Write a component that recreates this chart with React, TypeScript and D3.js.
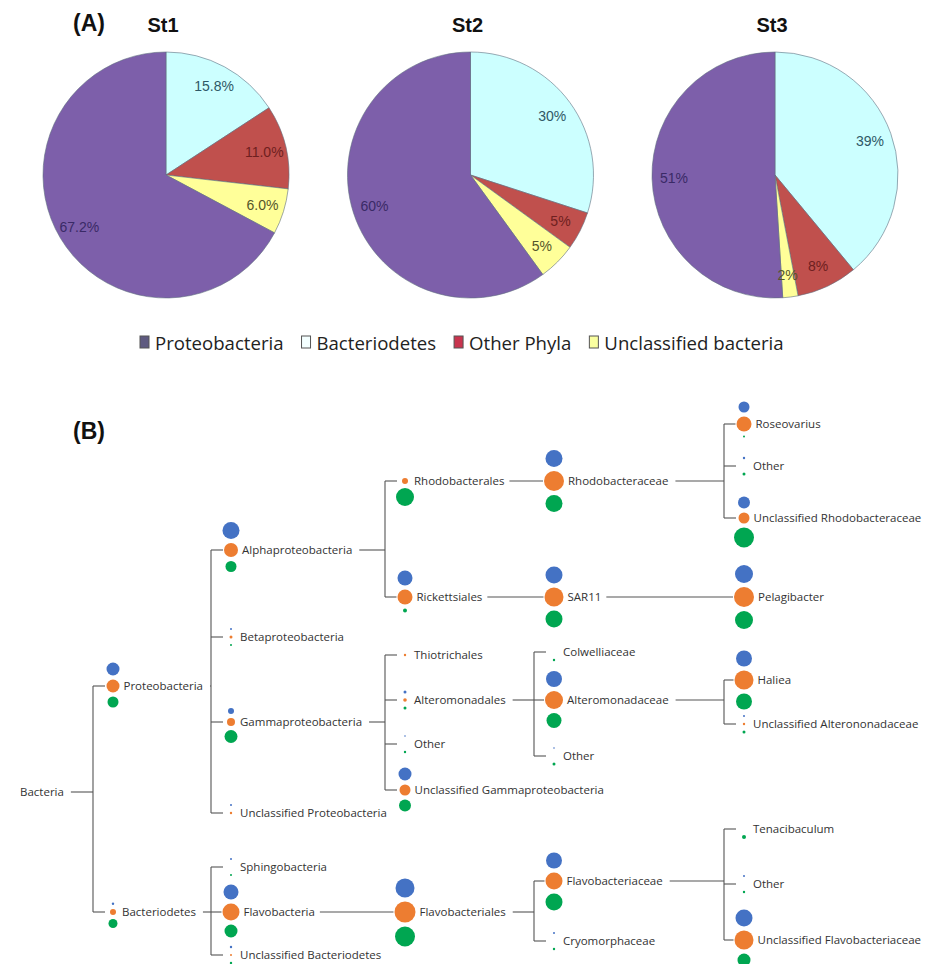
import React from "react";
import * as d3 from "d3";

// ---------- Panel A data ----------
const stations = ["St1", "St2", "St3"];
const phyla = ["Proteobacteria", "Bacteriodetes", "Other Phyla", "Unclassified bacteria"];
const st1Values = [67.2, 15.8, 11.0, 6.0];
const st2Values = [60, 30, 5, 5];
const st3Values = [51, 39, 8, 2];
const st1Labels = ["67.2%", "15.8%", "11.0%", "6.0%"];
const st2Labels = ["60%", "30%", "5%", "5%"];
const st3Labels = ["51%", "39%", "8%", "2%"];
const sliceOrder = [1, 2, 3, 0]; // clockwise from 12 o'clock

const phylaColors = ["#7D5FAA", "#CCFFFF", "#C0504D", "#FFFF99"];
const phylaTextColors = ["#3A2A66", "#2F5866", "#6E2020", "#55552A"];
const legendColors = ["#5E5A80", "#F4FFFF", "#C8344E", "#FAFFA0"];

// ---------- Panel B data ----------
const treeIds = [
  "bacteria", "proteo", "alpha", "rhodobacterales", "rhodobacteraceae", "roseovarius", "otherRhodo",
  "unclRhodo", "rickettsiales", "sar11", "pelagibacter", "beta", "gamma", "thiotrichales",
  "alteromonadales", "colwelliaceae", "alteromonadaceae", "haliea", "unclAltero", "otherAltero",
  "otherGamma", "unclGamma", "unclProteo", "bacteroidetes", "sphingo", "flavobacteria",
  "flavobacteriales", "flavobacteriaceae", "tenacibaculum", "otherFlavo", "unclFlavo", "cryomorph", "unclBact",
];
const treeLabels = [
  "Bacteria", "Proteobacteria", "Alphaproteobacteria", "Rhodobacterales", "Rhodobacteraceae", "Roseovarius", "Other",
  "Unclassified Rhodobacteraceae", "Rickettsiales", "SAR11", "Pelagibacter", "Betaproteobacteria", "Gammaproteobacteria", "Thiotrichales",
  "Alteromonadales", "Colwelliaceae", "Alteromonadaceae", "Haliea", "Unclassified Alterononadaceae", "Other",
  "Other", "Unclassified Gammaproteobacteria", "Unclassified Proteobacteria", "Bacteriodetes", "Sphingobacteria", "Flavobacteria",
  "Flavobacteriales", "Flavobacteriaceae", "Tenacibaculum", "Other", "Unclassified Flavobacteriaceae", "Cryomorphaceae", "Unclassified Bacteriodetes",
];
const treeParents = [
  "", "bacteria", "proteo", "alpha", "rhodobacterales", "rhodobacteraceae", "rhodobacteraceae",
  "rhodobacteraceae", "alpha", "rickettsiales", "sar11", "proteo", "proteo", "gamma",
  "gamma", "alteromonadales", "alteromonadales", "alteromonadaceae", "alteromonadaceae", "alteromonadales",
  "gamma", "gamma", "proteo", "bacteria", "bacteroidetes", "bacteroidetes",
  "flavobacteria", "flavobacteriales", "flavobacteriaceae", "flavobacteriaceae", "flavobacteriaceae", "flavobacteriales", "bacteroidetes",
];
// relative abundance symbol size per station (St1 blue, St2 orange, St3 green)
const sizeSt1 = [
  0, 6.5, 8.5, 0, 8.5, 5.5, 1.2,
  6, 7.5, 8.5, 9, 1, 3, 0,
  1.5, 0, 8, 8, 1, 0.8,
  0.8, 6.5, 1, 1.2, 1, 7.5,
  9.5, 8, 0, 1, 8.5, 1, 1.2,
];
const sizeSt2 = [
  0, 6.5, 7, 3, 10, 7.5, 0,
  5.5, 7.5, 9.5, 10, 1.5, 4, 1.2,
  1.8, 0, 9, 9.5, 1.2, 0,
  0, 5.5, 1.2, 3, 0, 8.5,
  10.5, 8.5, 0, 0, 9.5, 0, 1,
];
const sizeSt3 = [
  0, 5.5, 5.5, 9, 8.5, 1, 1.5,
  10, 2, 8.5, 9, 1, 6.5, 0,
  1.5, 1.2, 7.5, 8, 1.5, 1.5,
  1.2, 6, 0, 4.5, 1, 6.5,
  10, 8.5, 2, 1.2, 6.5, 1.2, 1.2,
];
// layout: vertical row of each taxon, and column per rank depth
const treeRowY = [
  792, 686, 550, 481, 481, 424, 466,
  518, 597, 597, 597, 637, 722, 655,
  700, 652, 700, 680, 724, 756,
  744, 790, 813, 912, 867, 912,
  912, 881, 829, 884, 940, 941, 955,
];
const depthColumnX = [11, 113, 231, 405, 554, 744];
const stationColors = ["#4472C4", "#ED7D31", "#00A651"];

const canvas = typeof document !== "undefined" ? document.createElement("canvas") : null;
const ctx = canvas ? canvas.getContext("2d") : null;
function measure(text: string, font: string): number {
  if (!ctx) return text.length * 6;
  ctx.font = font;
  return ctx.measureText(text).width;
}

const TREE_FONT_SIZE = 11.5;
const TREE_FONT = `${TREE_FONT_SIZE}px "Open Sans"`;
const LEGEND_FONT_SIZE = 18.6;
const LEGEND_FONT = `${LEGEND_FONT_SIZE}px "Open Sans"`;

type Row = { id: string; label: string; parent: string; y: number; s: number[] };

export default function App() {
  const W = 932;
  const H = 964;

  // ---- pies ----
  const pieX = d3.scalePoint<string>().domain(stations).range([166, 775]);
  const pieY = 175;
  const pieR = 123;
  const arc = d3.arc<d3.PieArcDatum<number>>().innerRadius(0).outerRadius(pieR);
  const labelArc = d3.arc<d3.PieArcDatum<number>>().innerRadius(101).outerRadius(101);
  const stationValues = [st1Values, st2Values, st3Values];
  const stationLabels = [st1Labels, st2Labels, st3Labels];

  // ---- legend ----
  const legendItems: { x: number; tx: number; i: number }[] = [];
  let lx = 140;
  phyla.forEach((p, i) => {
    legendItems.push({ x: lx, tx: lx + 15, i });
    lx = lx + 15 + measure(p, LEGEND_FONT) + 18;
  });

  // ---- tree ----
  const rows: Row[] = treeIds.map((id, i) => ({
    id,
    label: treeLabels[i],
    parent: treeParents[i],
    y: treeRowY[i],
    s: [sizeSt1[i], sizeSt2[i], sizeSt3[i]],
  }));
  const root = d3
    .stratify<Row>()
    .id((d) => d.id)
    .parentId((d) => (d.parent ? d.parent : null))(rows);
  const xCol = d3.scaleLinear().domain(d3.range(depthColumnX.length)).range(depthColumnX);
  const yRow = d3.scaleLinear().domain([400, 964]).range([400, 964]);
  const rScale = d3.scaleLinear().domain([0, 10]).range([0, 10]);

  const nodes = root.descendants();
  const info = new Map<string, { cx: number; cy: number; r: number[]; lx: number; tEnd: number }>();
  nodes.forEach((n) => {
    const cx = xCol(n.depth);
    const cy = yRow(n.data.y);
    const r = n.data.s.map((v) => rScale(v));
    const lxx = n.depth === 0 ? cx + 9 : cx + Math.max(r[1] + 4, 9);
    const tEnd = lxx + measure(n.data.label, TREE_FONT);
    info.set(n.data.id, { cx, cy, r, lx: lxx, tEnd });
  });

  const lines: { x1: number; y1: number; x2: number; y2: number }[] = [];
  nodes.forEach((n) => {
    if (!n.children) return;
    const p = info.get(n.data.id)!;
    if (n.children.length === 1) {
      const c = info.get(n.children[0].data.id)!;
      lines.push({ x1: p.tEnd + 5, y1: p.cy, x2: c.cx - Math.max(c.r[1], 3) - 1, y2: p.cy });
    } else {
      const bx = xCol(n.depth + 1) - 20;
      if (p.tEnd + 7 < bx) lines.push({ x1: p.tEnd + 7, y1: p.cy, x2: bx, y2: p.cy });
      const ys = n.children.map((c) => info.get(c.data.id)!.cy);
      lines.push({ x1: bx, y1: d3.min(ys)!, x2: bx, y2: d3.max(ys)! });
      n.children.forEach((c) => {
        const ci = info.get(c.data.id)!;
        lines.push({ x1: bx, y1: ci.cy, x2: ci.cx - Math.max(ci.r[1] + 1, 8), y2: ci.cy });
      });
    }
  });

  const circles: { cx: number; cy: number; r: number; fill: string; key: string }[] = [];
  nodes.forEach((n) => {
    const p = info.get(n.data.id)!;
    const [rb, ro, rg] = p.r;
    const gap = 4;
    const yb = p.cy - Math.max(ro + rb + gap, 8);
    const yg = p.cy + Math.max(ro + rg + gap, 8);
    if (rb > 0) circles.push({ cx: p.cx, cy: yb, r: rb, fill: stationColors[0], key: n.data.id + "b" });
    if (ro > 0) circles.push({ cx: p.cx, cy: p.cy, r: ro, fill: stationColors[1], key: n.data.id + "o" });
    if (rg > 0) circles.push({ cx: p.cx, cy: yg, r: rg, fill: stationColors[2], key: n.data.id + "g" });
  });

  return (
    <svg
      width={W}
      height={H}
      viewBox={`0 0 ${W} ${H}`}
      style={{ position: "absolute", left: 0, top: 0, display: "block", background: "#fff" }}
    >
      <rect x={0} y={0} width={W} height={H} fill="#fff" />
      {/* Panel A */}
      <text x={73} y={31} fontFamily="Liberation Sans, Arial, sans-serif" fontWeight="bold" fontSize={23} fill="#111">
        (A)
      </text>
      {stations.map((st, si) => {
        const vals = stationValues[si];
        const arcs = d3
          .pie<number>()
          .sort(null)
          .value((i) => vals[i])(sliceOrder);
        const cx = pieX(st)!;
        return (
          <g key={st}>
            <text
              x={cx - 3}
              y={32}
              textAnchor="middle"
              fontFamily="Liberation Sans, Arial, sans-serif"
              fontWeight="bold"
              fontSize={20}
              fill="#111"
            >
              {st}
            </text>
            <g transform={`translate(${cx},${pieY})`}>
              {arcs.map((a) => (
                <path key={a.data} d={arc(a)!} fill={phylaColors[a.data]} stroke="#5F6F80" strokeWidth={0.6} />
              ))}
              {arcs.map((a) => {
                const [x, y] = labelArc.centroid(a);
                return (
                  <text
                    key={"l" + a.data}
                    x={x}
                    y={y}
                    dy="0.35em"
                    textAnchor="middle"
                    fontFamily="Liberation Sans, Arial, sans-serif"
                    fontSize={14}
                    fill={phylaTextColors[a.data]}
                  >
                    {stationLabels[si][a.data]}
                  </text>
                );
              })}
            </g>
          </g>
        );
      })}
      {/* legend */}
      {legendItems.map((it) => (
        <g key={phyla[it.i]}>
          <rect x={it.x} y={336} width={9} height={12} fill={legendColors[it.i]} stroke="#555" strokeWidth={1} />
          <text x={it.tx} y={350} fontFamily='"Open Sans", sans-serif' fontSize={LEGEND_FONT_SIZE} fill="#222">
            {phyla[it.i]}
          </text>
        </g>
      ))}

      {/* Panel B */}
      <text x={73} y={439} fontFamily="Liberation Sans, Arial, sans-serif" fontWeight="bold" fontSize={23} fill="#111">
        (B)
      </text>
      <g stroke="#555" strokeWidth={1.1} fill="none">
        {lines.map((l, i) => (
          <line key={i} x1={l.x1} y1={l.y1} x2={l.x2} y2={l.y2} />
        ))}
      </g>
      {circles.map((c) => (
        <circle key={c.key} cx={c.cx} cy={c.cy} r={c.r} fill={c.fill} />
      ))}
      {nodes.map((n) => {
        const p = info.get(n.data.id)!;
        return (
          <text
            key={"t" + n.data.id}
            x={p.lx}
            y={p.cy}
            dy="0.35em"
            fontFamily='"Open Sans", sans-serif'
            fontSize={TREE_FONT_SIZE}
            fill="#333"
          >
            {n.data.label}
          </text>
        );
      })}
    </svg>
  );
}
